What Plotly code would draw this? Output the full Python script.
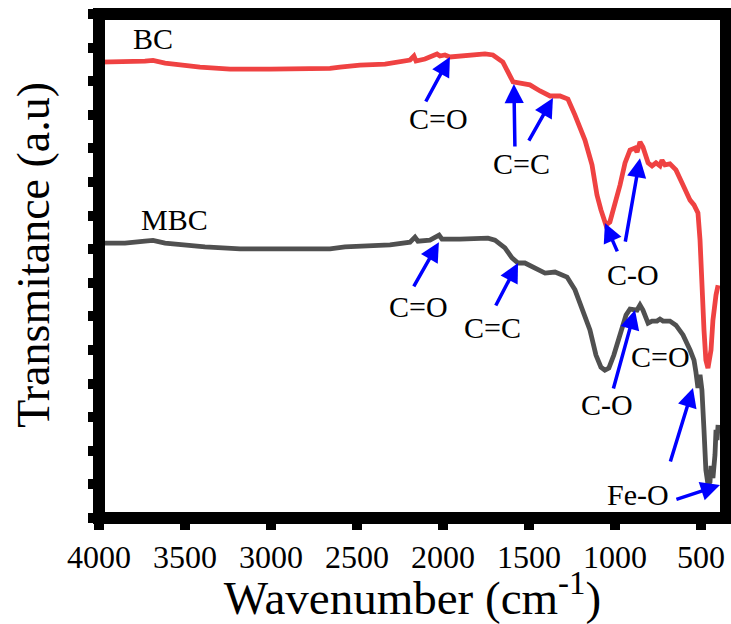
import plotly.graph_objects as go

# ---------------- data ----------------
wn_bc = [4000, 3849, 3733, 3686, 3616, 3413, 3238, 3006, 2832, 2657, 2599, 2483, 2337, 2250,
         2192, 2169, 2157, 2105, 2035, 2018, 1989, 1960, 1872, 1756, 1710, 1652, 1593, 1553,
         1495, 1436, 1378, 1320, 1274, 1233, 1175, 1134, 1105, 1082, 1053, 1030, 1000, 971,
         942, 913, 884, 872, 855, 838, 808, 785, 762, 739, 727, 710, 681, 646, 605, 564, 541,
         518, 506, 495, 483, 472, 460, 442, 431, 413, 401]
t_bc = [13.57, 13.57, 13.60, 13.62, 13.54, 13.42, 13.36, 13.36, 13.36, 13.38, 13.42, 13.48,
        13.51, 13.57, 13.63, 13.75, 13.60, 13.66, 13.81, 13.75, 13.78, 13.72, 13.75, 13.81,
        13.78, 13.57, 12.98, 12.95, 12.89, 12.71, 12.56, 12.56, 12.47, 11.99, 11.25, 10.51,
        9.61, 9.17, 8.72, 8.81, 9.32, 9.91, 10.57, 10.95, 11.01, 10.89, 11.19, 11.04, 10.57,
        10.48, 10.57, 10.48, 10.65, 10.51, 10.54, 10.36, 9.91, 9.46, 9.32, 9.08, 8.27, 6.79,
        5.60, 4.70, 4.46, 5.00, 5.89, 6.64, 6.93]

wn_mbc = [4000, 3849, 3733, 3686, 3616, 3384, 3180, 2832, 2657, 2570, 2483, 2308, 2192, 2163,
          2146, 2076, 2023, 2006, 1902, 1739, 1698, 1640, 1599, 1564, 1524, 1465, 1407, 1349,
          1279, 1233, 1186, 1146, 1111, 1082, 1059, 1036, 1007, 971, 936, 913, 884, 872, 855,
          838, 808, 785, 756, 739, 721, 681, 646, 605, 564, 541, 530, 524, 518, 506, 495, 483,
          472, 460, 448, 442, 431, 419, 413, 407, 401]
t_mbc = [8.18, 8.18, 8.24, 8.26, 8.18, 8.07, 8.01, 8.01, 8.01, 8.07, 8.08, 8.13, 8.21, 8.36,
         8.24, 8.27, 8.42, 8.30, 8.30, 8.33, 8.27, 8.04, 7.74, 7.59, 7.59, 7.44, 7.29, 7.32,
         7.17, 6.79, 6.19, 5.60, 4.85, 4.49, 4.40, 4.46, 4.85, 5.51, 6.04, 6.22, 6.22, 6.19,
         6.34, 6.19, 5.80, 5.86, 5.86, 5.92, 5.86, 5.86, 5.74, 5.45, 5.00, 4.70, 4.35, 3.96,
         3.87, 4.26, 3.81, 2.62, 1.43, 1.01, 1.07, 1.55, 1.19, 1.88, 2.62, 2.32, 2.77]

x_ticks = [4000, 3500, 3000, 2500, 2000, 1500, 1000, 500]
x_range = [4000, 355]
y_range = [0, 15]

series_names = ["BC", "MBC"]
series_label_pos = [(3686, 14.26), (3564, 8.87)]

# band labels: (text, x, y)
band_labels = [
    ("C=O", 2024, 11.88), ("C=C", 1541, 10.54), ("C-O", 896, 7.26),
    ("C=O", 2140, 6.28), ("C=C", 1710, 5.68), ("C-O", 1047, 3.39),
    ("C=O", 733, 4.82), ("Fe-O", 867, 0.71),
]
# arrows: (tail_x, tail_y, tip_x, tip_y)
band_arrows = [
    (2105, 12.35, 1960, 13.72),
    (1582, 11.01, 1588, 12.92), (1506, 11.19, 1361, 12.50),
    (983, 7.89, 1059, 8.78), (942, 8.18, 855, 10.71),
    (2175, 6.85, 2024, 8.21),
    (1698, 6.28, 1564, 7.59),
    (1012, 3.81, 884, 6.19),
    (681, 1.64, 547, 3.87), (652, 0.54, 390, 0.98),
]

FONT = '"Liberation Serif", "Times New Roman", Times, serif'
RED = "#EF4242"
GRAY = "#505050"
BLUE = "#0000FF"

fig = go.Figure()
fig.add_trace(go.Scatter(x=wn_bc, y=t_bc, mode="lines", name="BC",
                         line=dict(color=RED, width=4.8), showlegend=False))
fig.add_trace(go.Scatter(x=wn_mbc, y=t_mbc, mode="lines", name="MBC",
                         line=dict(color=GRAY, width=4.8), showlegend=False))

annotations = []
for name, (x, y) in zip(series_names, series_label_pos):
    annotations.append(dict(x=x, y=y, text=name, showarrow=False,
                            font=dict(family=FONT, size=30, color="black")))
for txt, x, y in band_labels:
    annotations.append(dict(x=x, y=y, text=txt, showarrow=False,
                            font=dict(family=FONT, size=30, color="black")))
for tx, ty, hx, hy in band_arrows:
    annotations.append(dict(x=hx, y=hy, ax=tx, ay=ty, axref="x", ayref="y",
                            text="", showarrow=True, arrowhead=2, arrowsize=1.1,
                            arrowwidth=3.5, arrowcolor=BLUE, standoff=0, startstandoff=0))
# y-axis title
annotations.append(dict(xref="paper", yref="paper", x=-0.104, y=0.522,
                        text="Transmitance (a.u)", textangle=-90, showarrow=False,
                        xanchor="center", yanchor="middle",
                        font=dict(family=FONT, size=46, color="black")))

fig.update_layout(
    width=731, height=624,
    margin=dict(l=99, r=5, t=14, b=106),
    paper_bgcolor="white", plot_bgcolor="white",
    font=dict(family=FONT, color="black"),
    annotations=annotations,
    shapes=[dict(type="rect", xref="paper", yref="paper", x0=0, x1=1, y0=0, y1=1,
                 line=dict(color="black", width=12), layer="above")],
    xaxis=dict(range=x_range, tickvals=x_ticks, ticks="outside", ticklen=11, tickwidth=10,
               tickcolor="black", showgrid=False, zeroline=False, showline=False,
               tickfont=dict(family=FONT, size=32, color="black"),
               title=dict(text="Wavenumber (cm<sup>-1</sup>)", standoff=2,
                          font=dict(family=FONT, size=47, color="black"))),
    yaxis=dict(range=y_range, dtick=1, ticks="outside", ticklen=10, tickwidth=10,
               tickcolor="black", showgrid=False, zeroline=False, showline=False,
               showticklabels=False),
)

fig.write_html("out.html")
